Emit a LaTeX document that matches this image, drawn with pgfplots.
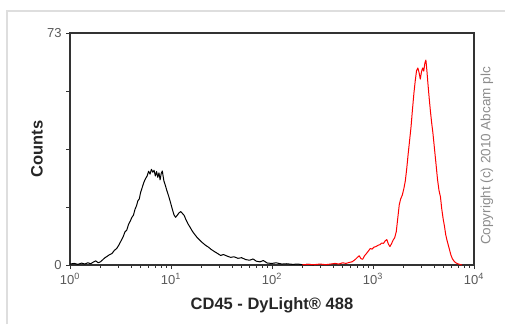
\documentclass[border=0pt]{standalone}
\usepackage{pgfplots}
\pgfplotsset{compat=1.18}
\usepackage{fontspec}
\setmainfont{Liberation Sans}
\pgfplotstableread{
x y
1.0 0.3
1.1 0.5
1.2 0.2
1.3 0.6
1.4 0.3
1.5 0.7
1.6 0.4
1.7 0.9
1.8 1.3
1.9 0.7
2.0 1.0
2.1 1.6
2.2 2.2
2.3 2.6
2.45 3.2
2.6 3.6
2.75 4.6
2.9 5.2
3.05 6.3
3.2 7.6
3.35 8.8
3.5 10.4
3.65 11.0
3.8 12.8
3.95 13.8
4.1 15.0
4.25 15.7
4.4 17.5
4.55 18.6
4.7 20.2
4.85 20.8
5.0 22.8
5.2 24.5
5.4 26.1
5.6 27.2
5.8 28.0
6.0 29.5
6.2 28.6
6.4 30.1
6.6 29.2
6.8 29.8
7.0 28.0
7.2 29.4
7.4 27.6
7.6 29.0
7.8 26.8
8.0 28.8
8.2 29.6
8.5 26.5
8.8 25.0
9.1 23.4
9.5 21.6
9.9 19.6
10.3 17.6
10.7 15.8
11.1 15.0
11.5 15.6
12.0 16.4
12.5 16.8
13.0 16.2
13.5 15.6
14.0 14.4
14.7 13.0
15.5 11.8
16.3 10.6
17.2 9.6
18.2 8.6
19.3 7.8
20.5 7.0
22.0 6.2
23.5 5.6
25.0 4.9
27.0 4.2
29.0 3.6
31.0 3.0
33.0 3.3
36.0 2.8
39.0 2.4
42.0 2.6
46.0 2.1
50.0 2.3
55.0 1.7
60.0 1.5
65.0 1.9
70.0 1.2
76.0 1.0
82.0 1.4
90.0 0.6
100 0.5
110 0.7
125 0.3
140 0.4
160 0.2
180 0.3
200 0.1
230 0.2
260 0.0
}\blackdata
\pgfplotstableread{
x y
200 0.1
230 0.2
260 0.1
300 0.3
340 0.1
380 0.3
420 0.5
460 0.3
500 0.7
540 0.5
580 0.8
620 1.0
660 1.6
700 2.4
730 2.9
760 2.0
790 1.8
820 2.8
860 3.6
900 4.4
940 5.2
980 5.0
1020 5.6
1070 5.8
1120 6.2
1170 6.4
1220 6.9
1270 6.8
1320 7.6
1370 8.0
1420 6.6
1470 5.8
1520 6.6
1580 7.8
1640 8.6
1700 10.5
1760 14.8
1820 19.0
1880 20.8
1950 22.0
2020 24.0
2090 26.5
2160 30.5
2230 35.0
2300 39.0
2380 43.5
2460 49.0
2540 54.0
2620 58.0
2700 61.2
2780 62.0
2860 60.5
2940 58.5
3020 60.8
3100 62.0
3180 61.0
3260 63.5
3340 64.5
3420 61.0
3500 57.0
3600 52.5
3700 48.5
3800 45.0
3920 41.5
4050 37.0
4200 32.0
4350 27.0
4500 23.5
4650 21.5
4800 17.5
4950 14.5
5100 12.2
5250 9.5
5400 7.8
5550 6.4
5700 5.0
5900 3.2
6100 2.0
6350 1.2
6600 0.7
6900 0.4
7200 0.2
7600 0.0
}\reddata
\begin{document}
\begin{tikzpicture}[x=1pt,y=1pt]
\draw[color=black!13, line width=2pt] (7,-324) -- (7,-11) -- (505,-11);
\begin{axis}[
  at={(70pt,-265pt)}, anchor=south west,
  scale only axis, width=404pt, height=232pt,
  xmode=log, xmin=1, xmax=10000, ymin=0, ymax=73,
  xtick={1,10,100,1000,10000},
  xticklabels={10\textsuperscript{0},10\textsuperscript{1},10\textsuperscript{2},10\textsuperscript{3},10\textsuperscript{4}},
  minor xtick={2,3,4,5,6,7,8,9,20,30,40,50,60,70,80,90,200,300,400,500,600,700,800,900,2000,3000,4000,5000,6000,7000,8000,9000},
  ytick={0,18.25,36.5,54.75,73},
  yticklabels={0,,,,73},
  xtick pos=left, ytick pos=left, tick align=outside,
  major tick length=4pt, minor tick length=2.5pt,
  axis line style={line width=1.3pt, color=black!80},
  every tick/.style={black!80, line width=0.8pt},
  every minor tick/.style={black!80, line width=0.6pt},
  ticklabel style={font=\fontsize{13}{13}\selectfont, text=black!65},
  xticklabel style={yshift=-1pt},
  yticklabel style={xshift=-1pt},
  xlabel={CD45 - DyLight\textregistered\ 488},
  xlabel style={at={(axis description cs:0.5,-0.172)}, anchor=center, font=\bfseries\fontsize{16.5}{16.5}\selectfont, text=black!85},
  ylabel={Counts},
  ylabel style={at={(axis description cs:-0.082,0.5)}, anchor=center, font=\bfseries\fontsize{16.5}{16.5}\selectfont, text=black!85},
  clip=false,
]
\addplot[black, line width=1pt, line join=round] table[x=x,y=y] {\blackdata};
\addplot[red, line width=1pt, line join=round] table[x=x,y=y] {\reddata};
\node[rotate=90, anchor=center, text=black!45, font=\fontsize{13.5}{13.5}\selectfont] at (axis description cs:1.032,0.47) {Copyright (c) 2010 Abcam plc};
\end{axis}
\pgfresetboundingbox
\path (0,0) rectangle (505,-324);
\end{tikzpicture}
\end{document}
